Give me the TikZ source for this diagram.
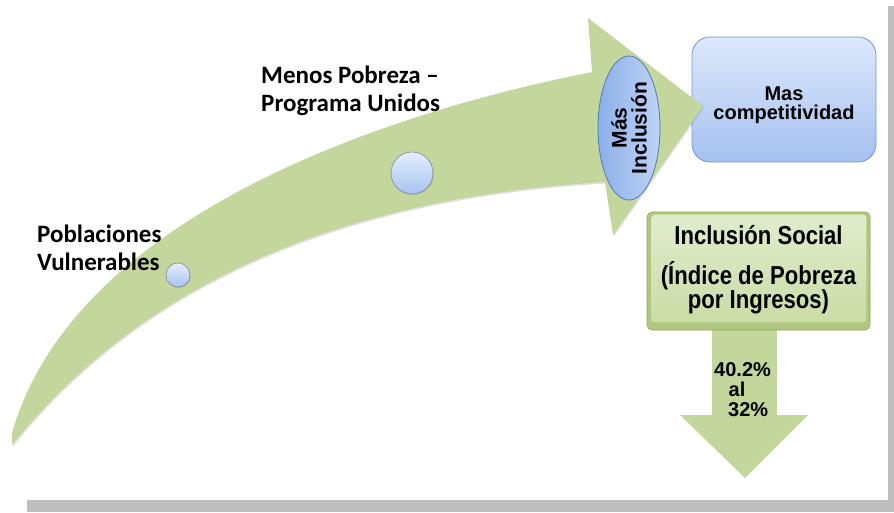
\documentclass[tikz,border=0pt]{standalone}
\usepackage{fontspec}
\setmainfont{Liberation Sans}
\newfontfamily\calibrifont{Carlito}
\newfontfamily\narrowfont{Liberation Sans}[FakeStretch=0.85]
\usetikzlibrary{positioning}
\usetikzlibrary{shapes,shapes.geometric,arrows,shadows,calc}
\setlength{\lineskiplimit}{-100pt}

\definecolor{arrowgreen}{RGB}{195,214,155}
\definecolor{rimgreen}{RGB}{176,199,130}
\definecolor{edgegreen}{RGB}{140,170,80}
\definecolor{facetop}{RGB}{224,236,204}
\definecolor{facebot}{RGB}{203,220,166}
\definecolor{boxtop}{RGB}{221,232,251}
\definecolor{boxbot}{RGB}{165,193,240}
\definecolor{boxline}{RGB}{112,150,208}
\definecolor{elltop}{RGB}{190,211,246}
\definecolor{ellbot}{RGB}{140,176,233}
\definecolor{elline}{RGB}{84,120,182}
\definecolor{dottop}{RGB}{228,237,252}
\definecolor{dotbot}{RGB}{168,195,241}
\definecolor{dotline}{RGB}{125,140,165}
\definecolor{frame}{RGB}{190,190,190}

\begin{document}
\begin{tikzpicture}[x=1pt,y=-1pt,
    dot/.style={circle,draw=dotline,line width=.6pt,top color=dottop,bottom color=dotbot,
        inner sep=0pt,drop shadow={shadow xshift=.8pt,shadow yshift=-1pt,opacity=.3}},
    tag/.style={font=\calibrifont\bfseries\fontsize{25}{27.5}\selectfont,align=left,inner sep=0pt},
    boxtext/.style={font=\bfseries\fontsize{20}{19}\selectfont,align=center,inner sep=0pt},
    compbox/.style={rectangle,rounded corners=18pt,draw=boxline,line width=.8pt,
        top color=boxtop,bottom color=boxbot,minimum width=184pt,minimum height=125pt},
    socbox/.style={rectangle,rounded corners=5pt,draw=edgegreen,line width=.6pt,fill=rimgreen,
        minimum width=223pt,minimum height=118pt},
    socface/.style={top color=facetop,bottom color=facebot,rounded corners=3pt},
    soctext/.style={font=\narrowfont\bfseries\fontsize{26}{24.5}\selectfont,
        align=center,inner sep=0pt}]
    \useasboundingbox (0,0) rectangle (894,512);

    % frame shadow
    \fill[frame] (888,6) rectangle (894,512);
    \fill[frame] (27,500) rectangle (894,512);

    \node[compbox] (comp) at (784,99.5) {};
    \node[boxtext, below=50pt of comp.north] (comp_t) {Mas\\competitividad};

    % curved arrow
    \fill[arrowgreen,drop shadow={shadow xshift=1pt,shadow yshift=-1.5pt,opacity=.25}]
        (12,445) -- (12,433) .. controls (70,230) and (350,120) .. (592,72)
        -- (588,18) -- (703,106) -- (613,235) -- (605,182)
        .. controls (300,200) and (120,310) .. (12,445) -- cycle;

    \node[dot, minimum size=24pt] (c_1) at (178,275) {};
    \node[dot, minimum size=42pt] (c_2) at (412,173) {};

    \node[ellipse, rotate=90, minimum width=144pt, minimum height=62pt, inner sep=0pt,
        draw=elline, line width=.8pt, left color=ellbot, right color=elltop,
        font=\bfseries\fontsize{21}{20}\selectfont, align=center] (incl) at (629,128) {Más\\Inclusión};

    \node[tag, anchor=north west] (pob) at (37,225) {Poblaciones\\Vulnerables};
    \node[tag, anchor=north west] (menos) at (261,66) {Menos Pobreza –\\Programa Unidos};

    % down arrow under the social box
    \fill[arrowgreen] (712,325) -- (777,325) -- (777,415) -- (808,415) -- (745,478)
        -- (680,415) -- (712,415) -- cycle;

    \node[socbox] (soc) at (758.5,271) {};
    \shade[socface] ($(soc.north west)+(5,3)$) rectangle ($(soc.south east)+(-4,-8)$);
    \node[soctext, below=14pt of soc.north] (soc_t) {Inclusión Social\\[15pt](Índice de Pobreza\\por Ingresos)};

    \node[boxtext, align=left, anchor=north west, font=\bfseries\fontsize{20}{20}\selectfont]
        (pct) at (714,362) {40.2\%\\\hspace*{14.5pt}al\\\hspace*{14pt}32\%};
\end{tikzpicture}
\end{document}
